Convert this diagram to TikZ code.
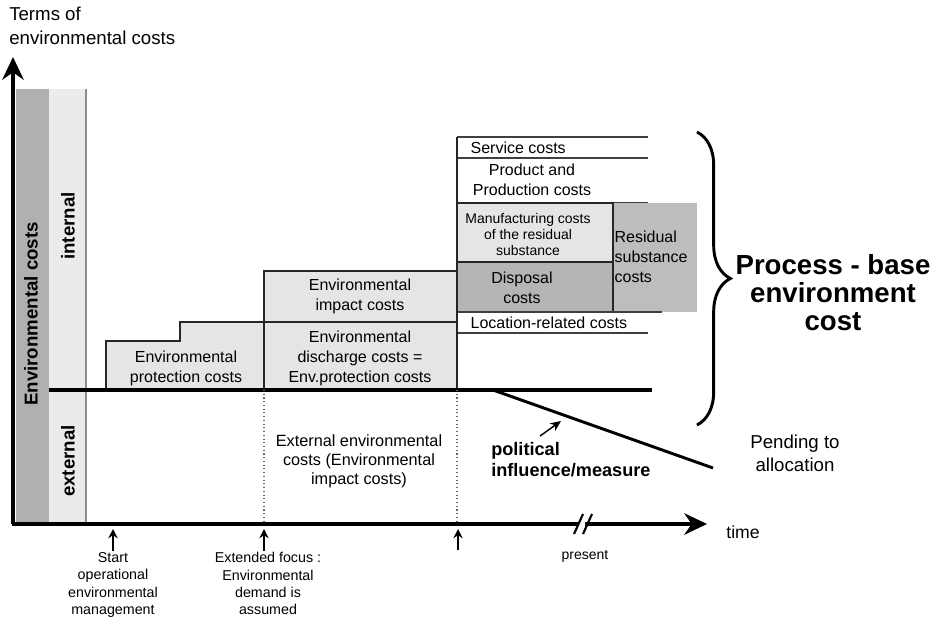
\documentclass[tikz,border=0pt]{standalone}
\usepackage{fontspec}
\setmainfont{Liberation Sans}
\usetikzlibrary{arrows.meta,decorations.pathreplacing}

\begin{document}
\begin{tikzpicture}[x=0.75pt,y=-0.75pt,
  axis/.style={line width=3pt, -{Stealth[length=17pt,width=16pt]}},
  pointer/.style={line width=0.8pt, -{Stealth[length=7pt,width=7pt,inset=2.5pt]}},
  lbl/.style={font=\fontsize{12}{15}\selectfont, align=center, inner sep=1pt},
  note/.style={font=\fontsize{10.7}{13}\selectfont, align=center, inner sep=1pt},
  sidelbl/.style={rotate=90, font=\bfseries\fontsize{14}{17}\selectfont, inner sep=1pt},
  pale/.style={fill=black!10, draw=black!85, line width=0.9pt},
  rule/.style={draw=black!75, line width=0.9pt}]

\useasboundingbox (0,0) rectangle (944,621);

% bands on the cost axis
\fill[black!31] (16,89) rectangle (49,524);
\fill[black!8] (49,89) rectangle (86,524);
\draw[black!45, line width=0.8pt] (86,89) -- (86,524);

\node[anchor=west, align=left, inner sep=0pt, font=\fontsize{14}{18}\selectfont] (title) at (9,26) {Terms of\\environmental costs};
\node[sidelbl] (envcosts) at (31,314) {Environmental costs};
\node[sidelbl] (internal) at (68,226) {internal};
\node[sidelbl] (external) at (68,461) {external};

% steps of internal costs
\draw[pale] (106,390) -- (106,341) -- (180,341) -- (180,322) -- (264,322) -- (264,390);
\node[lbl] (protect) at (186,368) {Environmental\\protection costs};
\draw[pale] (264,271) rectangle (457,322);
\node[lbl] (impact) at (360,296) {Environmental\\impact costs};
\draw[pale] (264,322) rectangle (457,390);
\node[lbl] (discharge) at (360,358) {Environmental\\discharge costs =\\Env.protection costs};

% process based stack
\draw[rule] (457,137) -- (648,137) (457,158) -- (648,158) (457,203) -- (648,203);
\draw[pale] (457,203) rectangle (613,262);
\draw[pale, fill=black!29] (457,262) rectangle (613,312);
\fill[black!26] (613,203) rectangle (697,312);
\draw[black!85, line width=0.9pt] (613,203) -- (613,312);
\draw[rule] (457,312) -- (662,312) (457,333) -- (648,333);
\draw[black!85, line width=0.9pt] (457,137) -- (457,390);
\node[lbl, anchor=west] (service) at (469,148) {Service costs};
\node[lbl] (product) at (532,180) {Product and\\Production costs};
\node[font=\fontsize{10.5}{12}\selectfont, align=center, inner sep=1pt] (manuf) at (528,234) {Manufacturing costs\\of the residual\\substance};
\node[lbl] (disposal) at (522,288) {Disposal\\costs};
\node[lbl, align=left, anchor=west] (residual) at (613,257) {Residual\\substance\\costs};
\node[lbl, anchor=west] (location) at (469,323) {Location-related costs};

% internal / external border
\draw[line width=2.6pt] (49,390) -- (652,390);
\coordinate (kink) at (493,390);
\coordinate (pendend) at (713,468);
\draw[line width=2.2pt] (kink) -- (pendend);

\draw[dotted, black!60, line width=0.8pt] (264,390) -- (264,524) (457,390) -- (457,524);
\node[lbl, font=\fontsize{12.2}{14.4}\selectfont] (extcost) at (359,461) {External environmental\\costs (Environmental\\impact costs)};

\node[anchor=west, align=left, inner sep=0pt, font=\bfseries\fontsize{13.6}{15.6}\selectfont] (political) at (491,460) {political\\influence/measure};
\coordinate (polfrom) at (540,436);
\coordinate (polto) at (561,421);
\draw[line width=1.1pt, -{Stealth[length=8pt,width=7pt]}] (polfrom) -- (polto);
\node[align=center, inner sep=0pt, font=\fontsize{14}{17.5}\selectfont] (pending) at (795,453) {Pending to\\allocation};

% brace and its label
\draw[line width=2.2pt, decorate, decoration={brace, amplitude=25pt}] (697,132) -- (697,425);
\node[align=center, inner sep=0pt, font=\bfseries\fontsize{20.7}{21}\selectfont] (process) at (833,293) {Process - base\\environment\\cost};

% axes
\draw[axis] (13,524) -- (13,57);
\draw[axis] (11.5,524) -- (707,524);
\fill[white] (579,520) -- (585,514) -- (591,514) -- (585,520) -- (585,528) -- (579,534) -- (573,534) -- (579,528) -- cycle;
\draw[line width=1.6pt] (574,534) -- (583,514) (583,534) -- (592,514);
\node[font=\fontsize{13.2}{15}\selectfont, inner sep=1pt] (time) at (743,532) {time};
\node[font=\fontsize{10.5}{12}\selectfont, inner sep=1pt] (present) at (585,556) {present};

% milestones below the time axis
\coordinate (tick1) at (113,529);
\coordinate (tick2) at (264,529);
\coordinate (tick3) at (458,529);
\node[note, anchor=north] (start) at (113,551) {Start\\operational\\environmental\\management};
\node[note, anchor=north] (extended) at (268,551) {Extended focus :\\Environmental\\demand is\\assumed};
\draw[pointer] (tick1 |- start.north) -- (tick1);
\draw[pointer] (tick2 |- extended.north) -- (tick2);
\draw[pointer] (458,550) -- (tick3);
\end{tikzpicture}
\end{document}
